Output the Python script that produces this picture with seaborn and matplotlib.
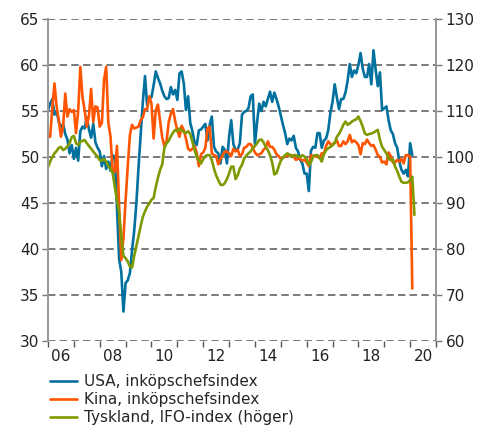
import pandas as pd
import matplotlib
matplotlib.use('Agg')
import matplotlib.pyplot as plt
import seaborn as sns
import numpy as np

# manadsdata fran jan 2006
usa_pmi = [
    55.1, 55.8, 56.3, 54.6, 55.0, 53.8, 53.2, 53.6, 52.5, 51.9, 50.4, 51.3,  # 2006
    49.8, 51.0, 49.6, 52.8, 53.3, 53.1, 54.3, 53.0, 52.1, 53.6, 51.6, 51.0,  # 2007
    50.6, 49.0, 50.1, 48.7, 49.5, 48.5, 50.2, 50.0, 44.5, 38.9, 37.5, 33.2,  # 2008
    36.3, 36.6, 37.4, 39.9, 42.0, 45.0, 48.9, 52.5, 56.0, 58.8, 55.6, 56.4,  # 2009
    56.5, 57.8, 59.3, 58.6, 58.0, 57.2, 56.6, 56.3, 56.4, 57.6, 56.8, 57.3,  # 2010
    56.2, 59.1, 59.3, 58.0, 55.1, 56.6, 53.7, 52.8, 51.6, 51.3, 52.9, 53.0,  # 2011
    53.3, 53.6, 51.8, 53.5, 54.4, 51.1, 50.6, 50.4, 49.3, 51.1, 50.8, 49.3,  # 2012
    52.2, 54.0, 51.4, 50.8, 50.8, 51.5, 54.6, 54.9, 55.0, 55.3, 56.6, 56.8,  # 2013
    51.4, 53.8, 55.8, 55.0, 56.0, 55.5, 56.3, 57.1, 56.0, 57.0, 56.3, 55.5,  # 2014
    54.5, 53.5, 52.6, 51.4, 52.0, 51.8, 52.3, 51.0, 50.6, 49.7, 49.3, 48.2,  # 2015
    48.2, 46.3, 50.7, 51.1, 51.0, 52.6, 52.6, 51.0, 51.8, 52.0, 52.9, 54.8,  # 2016
    56.0, 57.9, 56.5, 55.2, 56.3, 56.3, 57.0, 58.3, 60.1, 58.7, 59.4, 59.1,  # 2017
    60.0, 61.3, 59.6, 58.7, 58.7, 60.1, 57.9, 61.6, 59.5, 57.7, 59.2, 55.1,  # 2018
    55.3, 55.5, 54.0, 52.9, 52.5, 51.5, 51.0, 49.5, 48.6, 48.2, 48.6, 47.9,  # 2019
    51.5, 50.2,                                                              # 2020
]

kina_pmi = [
    52.2, 52.2, 55.3, 58.0, 55.5, 54.0, 52.2, 53.3, 56.9, 54.4, 55.2, 54.9,  # 2006
    55.1, 52.6, 55.0, 59.8, 56.5, 55.1, 53.3, 54.5, 57.4, 53.8, 55.5, 55.4,  # 2007
    53.3, 53.7, 58.4, 59.8, 53.7, 52.2, 48.4, 48.4, 51.2, 44.6, 38.8, 41.2,  # 2008
    45.3, 49.0, 52.4, 53.5, 53.1, 53.2, 53.3, 54.0, 54.3, 55.2, 55.2, 56.6,  # 2009
    55.8, 52.0, 55.1, 55.7, 53.9, 52.1, 51.2, 51.7, 53.8, 54.7, 55.2, 53.9,  # 2010
    52.9, 52.2, 53.4, 52.9, 52.0, 50.9, 50.7, 50.9, 51.2, 50.4, 49.0, 50.3,  # 2011
    50.5, 51.0, 53.1, 53.3, 50.4, 50.2, 50.1, 49.2, 49.8, 50.2, 50.6, 50.6,  # 2012
    50.4, 50.1, 50.9, 50.6, 50.8, 50.1, 50.3, 51.0, 51.1, 51.4, 51.4, 51.0,  # 2013
    50.5, 50.2, 50.3, 50.4, 50.8, 51.0, 51.7, 51.1, 51.1, 50.8, 50.3, 50.1,  # 2014
    49.8, 49.9, 50.1, 50.1, 50.2, 50.2, 50.0, 49.7, 49.8, 49.8, 49.6, 49.7,  # 2015
    49.4, 49.0, 50.2, 50.1, 50.1, 50.0, 49.9, 50.4, 50.4, 51.2, 51.7, 51.4,  # 2016
    51.3, 51.6, 51.8, 51.2, 51.2, 51.7, 51.4, 51.7, 52.4, 51.6, 51.8, 51.6,  # 2017
    51.3, 50.3, 51.5, 51.4, 51.9, 51.5, 51.2, 51.3, 50.8, 50.2, 50.0, 49.4,  # 2018
    49.5, 49.2, 50.5, 50.1, 49.4, 49.4, 49.7, 49.5, 49.8, 49.3, 50.2, 50.2,  # 2019
    50.0, 35.7,                                                              # 2020
]

tyskland_ifo = [
    97.8, 99.0, 100.0, 100.8, 101.3, 102.0, 102.2, 101.5, 101.8, 102.3, 103.0, 104.3,  # 2006
    104.6, 103.0, 102.6, 103.3, 103.5, 103.7, 103.0, 102.4, 101.8, 101.2, 100.6, 100.1,  # 2007
    99.3, 99.2, 99.6, 99.0, 98.0, 97.5, 96.5, 93.5, 90.5, 88.0, 82.7, 78.5,  # 2008
    78.0, 77.3, 76.2, 76.0, 78.5, 80.6, 82.8, 85.0, 87.0, 88.2, 89.2, 89.9,  # 2009
    90.7, 91.1, 93.5, 95.5, 97.2, 98.4, 102.0, 103.0, 103.5, 104.5, 105.3, 105.9,  # 2010
    105.6, 106.2, 105.8, 105.5, 105.2, 105.6, 105.0, 103.3, 101.5, 100.1, 99.2, 98.6,  # 2011
    99.5, 100.2, 100.4, 100.4, 99.3, 97.5, 96.0, 95.0, 94.0, 93.9, 94.3, 95.2,  # 2012
    96.4, 97.9, 97.9, 95.2, 96.0, 97.5, 98.3, 99.7, 100.3, 100.8, 101.2, 101.9,  # 2013
    102.4, 103.0, 103.7, 103.8, 103.2, 102.2, 101.5, 100.4, 98.8, 96.2, 96.5, 97.9,  # 2014
    99.2, 99.8, 100.4, 100.8, 100.5, 100.0, 100.4, 100.4, 100.1, 100.0, 100.4, 100.1,  # 2015
    99.6, 98.3, 98.9, 100.1, 100.4, 100.4, 99.8, 99.0, 100.6, 101.5, 101.9, 102.2,  # 2016
    102.6, 103.0, 104.4, 105.0, 105.9, 107.0, 107.7, 107.0, 107.3, 107.7, 108.0, 108.2,  # 2017
    108.8, 107.8, 106.6, 105.1, 104.8, 105.0, 105.1, 105.3, 105.6, 105.9, 103.7, 102.2,  # 2018
    101.5, 100.8, 99.7, 99.3, 99.5, 97.9, 97.0, 95.7, 94.6, 94.4, 94.4, 94.5,  # 2019
    95.0, 95.7, 87.4,  # 2020
]

etiketter = ['USA, inköpschefsindex', 'Kina, inköpschefsindex', 'Tyskland, IFO-index (höger)']
farger = ['#00709E', '#FF5500', '#7D9A00']
ar_etiketter = ['06', '08', '10', '12', '14', '16', '18', '20']


def ar_decimal(n):
    # manad -> decimalt ar
    datum = pd.date_range('2006-01-01', periods=n, freq='MS')
    return datum.year + (datum.month - 1) / 12.0


df_pmi = pd.DataFrame({'tid': ar_decimal(len(usa_pmi)), 'usa': usa_pmi, 'kina': kina_pmi})
df_ifo = pd.DataFrame({'tid': ar_decimal(len(tyskland_ifo)), 'ifo': tyskland_ifo})

sns.set_style('white')
plt.rcParams['font.family'] = ['DejaVu Sans']

fig = plt.figure(figsize=(4.89, 4.28), dpi=100)
ax = fig.add_axes([48 / 489, 1 - 341 / 428, (436 - 48) / 489, (341 - 19) / 428])
ax2 = ax.twinx()

lw = 1.9
sns.lineplot(data=df_pmi, x='tid', y='usa', ax=ax, color=farger[0], linewidth=lw, label=etiketter[0])
sns.lineplot(data=df_pmi, x='tid', y='kina', ax=ax, color=farger[1], linewidth=lw, label=etiketter[1])
sns.lineplot(data=df_ifo, x='tid', y='ifo', ax=ax2, color=farger[2], linewidth=lw, label=etiketter[2])

h1, l1 = ax.get_legend_handles_labels()
h2, l2 = ax2.get_legend_handles_labels()
ax.get_legend().remove()
ax2.get_legend().remove()

ax.set_xlim(2006, 2021)
ax.set_ylim(30, 65)
ax2.set_ylim(60, 130)
ax.set_yticks(np.arange(30, 66, 5))
ax2.set_yticks(np.arange(60, 131, 10))

# ticks vid arsskiften, etiketter mitt i aret
ax.set_xticks(np.arange(2006, 2022))
ax.set_xticklabels([])
ax.set_xticks(np.arange(2006.5, 2021, 2), minor=True)
ax.set_xticklabels(ar_etiketter, minor=True)
ax.tick_params(axis='x', which='major', direction='out', length=4, width=1, color='#555555', bottom=True)
ax.tick_params(axis='x', which='minor', length=0, pad=6, labelsize=11, labelcolor='#222222')
ax.tick_params(axis='y', direction='out', length=4, width=1, color='#777777', left=True, pad=2,
               labelsize=11, labelcolor='#222222')
ax2.tick_params(axis='y', direction='out', length=4, width=1, color='#777777', right=True, pad=3,
                labelsize=11, labelcolor='#222222')

ax.yaxis.grid(True, color='#7a7a7a', linewidth=1.4, linestyle=(0, (3.8, 2.2)))
ax.xaxis.grid(False)
ax.set_axisbelow(True)

for a in (ax, ax2):
    a.set_xlabel('')
    a.set_ylabel('')
    a.spines['top'].set_visible(False)
    a.spines['bottom'].set_visible(False)
    a.spines['left'].set_color('#999999')
    a.spines['right'].set_color('#999999')
    a.spines['left'].set_linewidth(1.3)
    a.spines['right'].set_linewidth(1.3)

fig.legend(h1 + h2, l1 + l2, loc='upper left', bbox_to_anchor=(50 / 489, 1 - 374 / 428),
           frameon=False, fontsize=11, handlelength=1.75, handletextpad=0.5,
           labelspacing=0.2, borderaxespad=0, borderpad=0)

fig.savefig('out.png', dpi=100)
